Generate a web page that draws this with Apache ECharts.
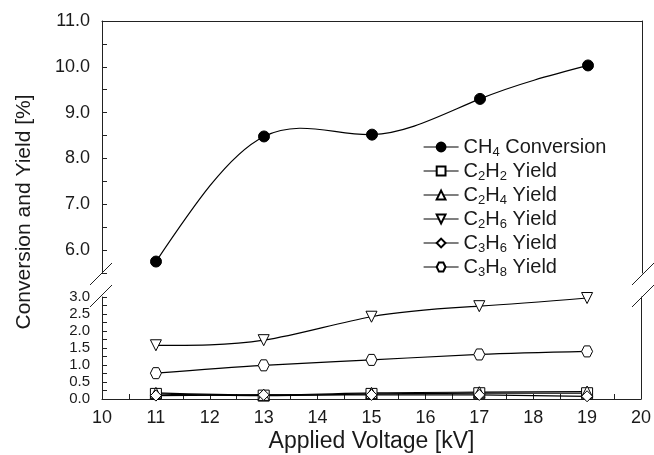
<!DOCTYPE html>
<html>
<head>
<meta charset="utf-8">
<script src="https://cdn.jsdelivr.net/npm/echarts@6/dist/echarts.min.js"></script>
<style>html,body{margin:0;padding:0;background:#fff;}#c{width:654px;height:455px;}</style>
</head>
<body>
<div id="c"></div>
<script>
var voltage = [11, 13, 15, 17, 19];
var ch4Conversion = [5.75, 8.48, 8.52, 9.30, 10.03];
var c2h2Yield = [0.15, 0.10, 0.15, 0.17, 0.17];
var c2h4Yield = [0.18, 0.12, 0.18, 0.20, 0.22];
var c2h6Yield = [1.58, 1.73, 2.42, 2.73, 2.97];
var c3h6Yield = [0.10, 0.12, 0.12, 0.12, 0.08];
var c3h8Yield = [0.76, 0.99, 1.15, 1.31, 1.40];
var seriesNames = ['CH4 Conversion', 'C2H2 Yield', 'C2H4 Yield', 'C2H6 Yield', 'C3H6 Yield', 'C3H8 Yield'];
var xTitle = 'Applied Voltage [kV]';
var yTitle = 'Conversion and Yield [%]';

function pairs(xs, ys) { return xs.map(function (x, i) { return [x, ys[i]]; }); }

// natural cubic spline through data points -> bezier segments (in data space)
function splineSegments(xs, ys) {
  var n = xs.length, i;
  var h = [], M = new Array(n).fill(0);
  for (i = 0; i < n - 1; i++) h.push(xs[i + 1] - xs[i]);
  if (n > 2) {
    var a = [], b = [], c = [], d = [];
    for (i = 1; i < n - 1; i++) {
      a.push(h[i - 1]); b.push(2 * (h[i - 1] + h[i])); c.push(h[i]);
      d.push(6 * ((ys[i + 1] - ys[i]) / h[i] - (ys[i] - ys[i - 1]) / h[i - 1]));
    }
    var m = b.length;
    for (i = 1; i < m; i++) {
      var w = a[i] / b[i - 1];
      b[i] -= w * c[i - 1]; d[i] -= w * d[i - 1];
    }
    var sol = new Array(m);
    sol[m - 1] = d[m - 1] / b[m - 1];
    for (i = m - 2; i >= 0; i--) sol[i] = (d[i] - c[i] * sol[i + 1]) / b[i];
    for (i = 0; i < m; i++) M[i + 1] = sol[i];
  }
  var segs = [];
  for (i = 0; i < n - 1; i++) {
    var hi = h[i], slope = (ys[i + 1] - ys[i]) / hi;
    var d0 = slope - hi * (2 * M[i] + M[i + 1]) / 6;
    var d1 = slope + hi * (M[i] + 2 * M[i + 1]) / 6;
    segs.push([[xs[i], ys[i]], [xs[i] + hi / 3, ys[i] + d0 * hi / 3],
               [xs[i + 1] - hi / 3, ys[i + 1] - d1 * hi / 3], [xs[i + 1], ys[i + 1]]]);
  }
  return segs;
}

var TXT = '#1a1a1a';
var FONT = 'Liberation Sans, Arial, sans-serif';
var HEX = 'path://M0,5 L2.5,0.67 L7.5,0.67 L10,5 L7.5,9.33 L2.5,9.33 Z';
var DTRI = 'path://M0,0 L10,0 L5,8.66 Z';

function curveSeries(data, grid) {
  var segs = splineSegments(voltage, data);
  return {
    type: 'custom', xAxisIndex: grid, yAxisIndex: grid,
    data: pairs(voltage, data), z: 3, silent: true,
    renderItem: function (params, api) {
      if (params.dataIndex !== 0) return null;
      var children = segs.map(function (s) {
        var p0 = api.coord(s[0]), p1 = api.coord(s[1]), p2 = api.coord(s[2]), p3 = api.coord(s[3]);
        return { type: 'bezierCurve',
          shape: { x1: p0[0], y1: p0[1], cpx1: p1[0], cpy1: p1[1], cpx2: p2[0], cpy2: p2[1], x2: p3[0], y2: p3[1] },
          style: { stroke: '#000', lineWidth: 1.2, fill: null } };
      });
      return { type: 'group', children: children };
    }
  };
}

function markerSeries(name, data, grid, symbol, filled, z) {
  return {
    name: name, type: 'line',
    xAxisIndex: grid, yAxisIndex: grid,
    data: pairs(voltage, data),
    symbol: symbol, symbolSize: 11,
    showAllSymbol: true,
    lineStyle: { color: '#000', width: 1.2, opacity: 0 },
    itemStyle: { color: filled ? '#000' : '#fff', borderColor: '#000', borderWidth: 1 },
    z: z
  };
}

var chart = echarts.init(document.getElementById('c'), null, { renderer: 'canvas' });
var option = {
  animation: false,
  backgroundColor: '#fff',
  textStyle: { fontFamily: FONT, color: TXT },
  grid: [
    { left: 102, top: 21, width: 540, height: 252 },
    { left: 102, top: 297, width: 540, height: 102 }
  ],
  xAxis: [
    { gridIndex: 0, type: 'value', min: 10, max: 20, interval: 1, position: 'top',
      axisLine: { show: true, lineStyle: { color: '#222', width: 1 } },
      axisTick: { show: false }, axisLabel: { show: false }, splitLine: { show: false } },
    { gridIndex: 1, type: 'value', min: 10, max: 20, interval: 1, position: 'bottom',
      name: xTitle, nameLocation: 'middle', nameGap: 31,
      nameTextStyle: { fontSize: 23, color: TXT, fontFamily: FONT },
      axisLine: { show: true, onZero: false, lineStyle: { color: '#222', width: 1 } },
      axisTick: { show: true, inside: true, length: 5, lineStyle: { color: '#222' } },
      minorTick: { show: true, splitNumber: 2, length: 5, lineStyle: { color: '#222' } },
      axisLabel: { fontSize: 18, color: TXT, margin: 10, fontFamily: FONT },
      splitLine: { show: false } }
  ],
  yAxis: [
    { gridIndex: 0, type: 'value', min: 5.5, max: 11, interval: 0.5,
      axisLine: { show: true, lineStyle: { color: '#222', width: 1 } },
      axisTick: { show: true, inside: true, length: 5, lineStyle: { color: '#222' } },
      axisLabel: { fontSize: 18, color: TXT, margin: 12, fontFamily: FONT,
        formatter: function (v) { return (Math.abs(v - Math.round(v)) < 1e-6) ? v.toFixed(1) : ''; } },
      splitLine: { show: false } },
    { gridIndex: 1, type: 'value', min: 0, max: 3, interval: 0.5,
      axisLine: { show: true, onZero: false, lineStyle: { color: '#222', width: 1 } },
      axisTick: { show: true, inside: true, length: 5, lineStyle: { color: '#222' } },
      minorTick: { show: true, splitNumber: 2, length: 5, lineStyle: { color: '#222' } },
      axisLabel: { fontSize: 15, color: TXT, margin: 12, fontFamily: FONT, lineHeight: 15,
        formatter: function (v) { return v.toFixed(1); } },
      splitLine: { show: false } },
    { gridIndex: 0, type: 'value', position: 'right', min: 5.5, max: 11,
      axisLine: { show: true, lineStyle: { color: '#222', width: 1 } },
      axisTick: { show: false }, axisLabel: { show: false }, splitLine: { show: false } },
    { gridIndex: 1, type: 'value', position: 'right', min: 0, max: 3,
      axisLine: { show: true, lineStyle: { color: '#222', width: 1 } },
      axisTick: { show: false }, axisLabel: { show: false }, splitLine: { show: false } }
  ],
  legend: {
    orient: 'vertical', left: 423, top: 137, padding: 0,
    itemWidth: 35, itemHeight: 11, itemGap: 2,
    data: seriesNames,
    selectedMode: false,
    lineStyle: { opacity: 1, color: '#000', width: 1.2 },
    formatter: function (name) {
      var out = '';
      for (var i = 0; i < name.length; i++) {
        var ch = name[i];
        if (/[0-9]/.test(ch) && i > 0 && /[A-Z]/.test(name[i - 1])) out += '{s|' + ch + '}';
        else out += '{n|' + ch + '}';
      }
      return out;
    },
    textStyle: {
      color: TXT, fontFamily: FONT,
      rich: {
        n: { fontSize: 20, lineHeight: 24, color: TXT, fontFamily: FONT },
        s: { fontSize: 13, lineHeight: 13, verticalAlign: 'bottom', color: TXT, fontFamily: FONT }
      }
    }
  },
  graphic: [
    { type: 'text', x: 24, y: 212, rotation: Math.PI / 2,
      style: { text: yTitle, font: '21px Liberation Sans, Arial, sans-serif', fill: TXT, textAlign: 'center', textVerticalAlign: 'middle' } },
    { type: 'line', shape: { x1: 90, y1: 285, x2: 112, y2: 263 }, style: { stroke: '#222', lineWidth: 1 } },
    { type: 'line', shape: { x1: 90, y1: 307, x2: 112, y2: 285 }, style: { stroke: '#222', lineWidth: 1 } },
    { type: 'line', shape: { x1: 632, y1: 285, x2: 654, y2: 263 }, style: { stroke: '#222', lineWidth: 1 } },
    { type: 'line', shape: { x1: 632, y1: 307, x2: 654, y2: 285 }, style: { stroke: '#222', lineWidth: 1 } }
  ],
  series: [
    curveSeries(ch4Conversion, 0),
    curveSeries(c2h2Yield, 1),
    curveSeries(c2h4Yield, 1),
    curveSeries(c2h6Yield, 1),
    curveSeries(c3h6Yield, 1),
    curveSeries(c3h8Yield, 1),
    markerSeries(seriesNames[0], ch4Conversion, 0, 'circle', true, 10),
    markerSeries(seriesNames[1], c2h2Yield, 1, 'rect', false, 5),
    markerSeries(seriesNames[2], c2h4Yield, 1, 'triangle', false, 6),
    markerSeries(seriesNames[3], c2h6Yield, 1, DTRI, false, 7),
    markerSeries(seriesNames[4], c3h6Yield, 1, 'diamond', false, 8),
    markerSeries(seriesNames[5], c3h8Yield, 1, HEX, false, 9)
  ]
};
chart.setOption(option);
</script>
</body>
</html>
